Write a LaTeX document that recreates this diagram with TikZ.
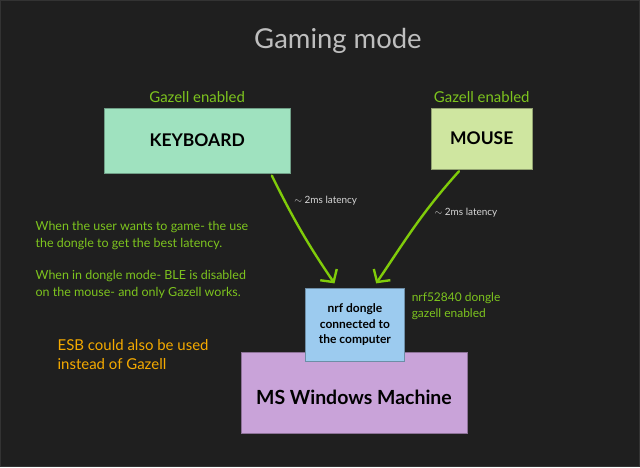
\documentclass[tikz,border=0pt]{standalone}
\usepackage{fontspec}
\setmainfont{Lato}
\usetikzlibrary{arrows.meta,positioning,calc}
\definecolor{bgdark}{RGB}{31,31,31}
\definecolor{titlegray}{RGB}{190,190,190}
\definecolor{notegreen}{RGB}{125,196,30}
\definecolor{linkgreen}{RGB}{128,204,10}
\definecolor{latgray}{RGB}{215,215,215}
\definecolor{esborange}{RGB}{245,170,0}
\definecolor{keycol}{RGB}{159,226,191}
\definecolor{mousecol}{RGB}{207,230,160}
\definecolor{donglecol}{RGB}{156,203,239}
\definecolor{pccol}{RGB}{201,163,217}

\begin{document}
\begin{tikzpicture}[x=1pt, y=-1pt, >=Latex,
  box/.style={draw=#1!70!black, fill=#1, inner sep=0pt, text=black},
  note/.style={text=notegreen, align=left, inner sep=0pt},
  link/.style={draw=linkgreen, line width=2.4pt, line cap=round,
    -{Straight Barb[length=9pt, width=20pt, line width=2.4pt]},
    shorten <=3pt, shorten >=6pt}]
  \fill[bgdark] (0,0) rectangle (640,467);
  \draw[gray!40!black, line width=1pt] (0,0) rectangle (640,467);
  \useasboundingbox (0,0) rectangle (640,467);

  \node[text=titlegray, font=\fontsize{27.5}{32}\selectfont] (title) at (338,40) {Gaming mode};

  \node[box=keycol, minimum width=186pt, minimum height=65pt, font=\bfseries\fontsize{17.5}{20}\selectfont] (keyboard) at (197,140) {KEYBOARD};
  \node[note, above=5pt of keyboard, font=\fontsize{15}{18}\selectfont] (kbnote) {Gazell enabled};
  \node[box=mousecol, minimum width=101pt, minimum height=61pt, font=\bfseries\fontsize{17.5}{20}\selectfont] (mouse) at (482,138) {MOUSE};
  \node[note, above=5pt of mouse, font=\fontsize{15}{18}\selectfont] (msnote) {Gazell enabled};

  \node[box=pccol, minimum width=226pt, minimum height=81pt, font=\bfseries\fontsize{19.5}{22}\selectfont, text depth=0pt] (pc) at (354,393) {\raisebox{-8pt}{MS Windows Machine}};
  \node[box=donglecol, minimum width=99pt, minimum height=73pt, align=center, font=\bfseries\fontsize{12}{15.5}\selectfont] (dongle) at (355,325) {nrf dongle\\connected to\\the computer};
  \node[note, below right=4pt and 7pt of dongle.north east, font=\fontsize{12}{16.5}\selectfont] (dnote) {nrf52840 dongle\\gazell enabled};

  \node[note, anchor=north west, font=\fontsize{12.5}{17}\selectfont] (usenote) at (35,221) {When the user wants to game- the use\\the dongle to get the best latency.};
  \node[note, anchor=north west, font=\fontsize{12.5}{17}\selectfont] (blenote) at (35,270) {When in dongle mode- BLE is disabled\\on the mouse- and only Gazell works.};
  \node[note, text=esborange, anchor=north west, font=\fontsize{15}{19.5}\selectfont] (esbnote) at (57,339) {ESB could also be used\\instead of Gazell};

  % links to the dongle
  \draw[link] (keyboard.-24) to[bend right=4] node[pos=.22, right=5pt, text=latgray, font=\fontsize{10}{12}\selectfont] {$\sim$ 2ms latency} (dongle.115);
  \draw[link] (mouse.-124) to[out=-132, in=56] node[pos=.37, right=5pt, text=latgray, font=\fontsize{10}{12}\selectfont] {$\sim$ 2ms latency} (dongle.64);
\end{tikzpicture}
\end{document}
